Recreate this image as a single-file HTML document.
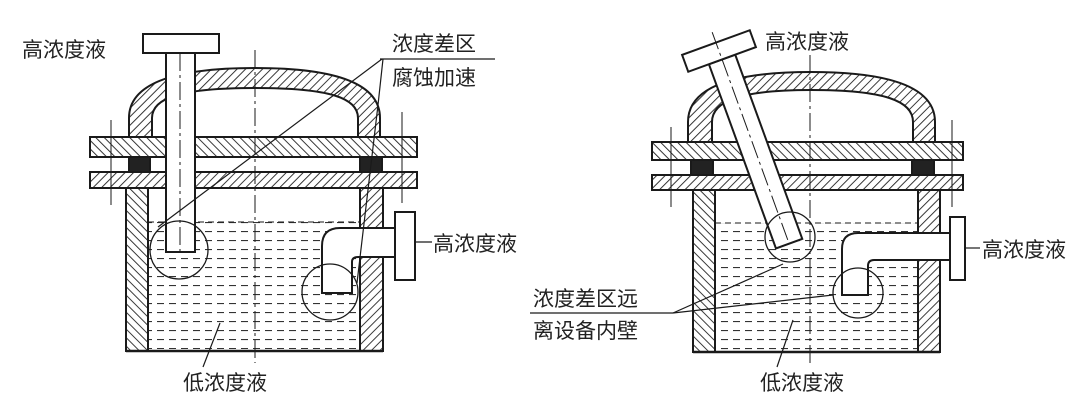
<!DOCTYPE html>
<html><head><meta charset="utf-8"><style>
html,body{margin:0;padding:0;background:#fff;}
svg{display:block;}
text{font-family:"Liberation Sans","Noto Sans CJK SC",sans-serif;font-size:21px;fill:#222;}
</style></head><body>
<svg width="1080" height="409" viewBox="0 0 1080 409" xmlns="http://www.w3.org/2000/svg">
<defs>
<pattern id="h1" width="6" height="6" patternUnits="userSpaceOnUse" patternTransform="rotate(45)">
<rect width="6" height="6" fill="#fff"/><line x1="0" y1="0" x2="0" y2="6" stroke="#222" stroke-width="1.8"/></pattern>
<pattern id="h2" width="6" height="6" patternUnits="userSpaceOnUse" patternTransform="rotate(-45)">
<rect width="6" height="6" fill="#fff"/><line x1="0" y1="0" x2="0" y2="6" stroke="#222" stroke-width="1.8"/></pattern>
<pattern id="liq" width="12" height="9" patternUnits="userSpaceOnUse" x="0" y="222">
<line x1="1" y1="0.5" x2="8" y2="0.5" stroke="#333" stroke-width="1.2"/></pattern>
</defs>
<g stroke="#1a1a1a" stroke-width="2" fill="none">
<!-- LEFT VESSEL -->
<rect x="148" y="222" width="212" height="127" fill="url(#liq)" stroke="none"/>
<line x1="148" y1="222" x2="360" y2="222" stroke-dasharray="6,4" stroke-width="1"/>
<rect x="126" y="188" width="22" height="163" fill="url(#h2)"/>
<rect x="360" y="188" width="23" height="163" fill="url(#h1)"/>
<line x1="126" y1="351" x2="383" y2="351" stroke-width="2.5"/>
<rect x="90" y="172" width="327" height="16" fill="url(#h1)"/>
<rect x="90" y="137" width="327" height="20" fill="url(#h2)"/>
<rect x="129" y="157" width="21" height="15" fill="#222"/>
<rect x="360" y="157" width="22" height="15" fill="#222"/>
<line x1="150" y1="157" x2="360" y2="157"/><line x1="150" y1="172" x2="360" y2="172"/>
<path fill="url(#h1)" fill-rule="evenodd" d="M129,137 L129,118 C129,85 170,68 255,68 C340,68 380,85 380,118 L380,137 L358,137 L358,118 C358,98 330,88 255,88 C180,88 152,98 152,118 L152,137 Z"/>
<line x1="255" y1="50" x2="255" y2="363" stroke-width="1" stroke-dasharray="18,4,3,4"/>
<line x1="111" y1="120" x2="111" y2="205" stroke-width="1"/>
<line x1="402" y1="112" x2="402" y2="203" stroke-width="1"/>
<rect x="166" y="53" width="29" height="199" fill="#fff"/>
<rect x="143" y="34" width="76" height="19" fill="#fff"/>
<line x1="180" y1="53" x2="180" y2="252" stroke-width="1" stroke-dasharray="18,4,3,4"/>
<path fill="#fff" d="M395,228 L340,228 Q322,228 322,246 L322,293 L352,293 L352,262 Q352,257 358,257 L395,257 Z"/>
<rect x="395" y="212" width="20" height="68" fill="#fff"/>
<circle cx="179" cy="250" r="29" stroke-width="1.3"/>
<circle cx="330" cy="292" r="28" stroke-width="1.3"/>
<g stroke-width="1.2">
<line x1="380" y1="59" x2="495" y2="59"/>
<line x1="382" y1="59" x2="158" y2="227"/>
<polyline points="383,59 378,105 357,283"/>
<line x1="415" y1="242" x2="432" y2="242"/>
<line x1="203" y1="367" x2="220" y2="323"/>
</g>
<!-- RIGHT VESSEL -->
<rect x="715" y="223" width="203" height="127" fill="url(#liq)" stroke="none"/>
<line x1="715" y1="223" x2="918" y2="223" stroke-dasharray="6,4" stroke-width="1"/>
<rect x="693" y="190" width="22" height="162" fill="url(#h2)"/>
<rect x="918" y="190" width="22" height="162" fill="url(#h1)"/>
<line x1="693" y1="352" x2="940" y2="352" stroke-width="2.5"/>
<rect x="652" y="175" width="311" height="15" fill="url(#h1)"/>
<rect x="652" y="142" width="311" height="18" fill="url(#h2)"/>
<rect x="691" y="160" width="22" height="15" fill="#222"/>
<rect x="912" y="160" width="22" height="15" fill="#222"/>
<line x1="713" y1="160" x2="912" y2="160"/><line x1="713" y1="175" x2="912" y2="175"/>
<path fill="url(#h1)" fill-rule="evenodd" d="M688,142 L688,122 C688,89 728,72 811,72 C895,72 935,89 935,122 L935,142 L913,142 L913,122 C913,101 885,90 811,90 C740,90 712,101 712,122 L712,142 Z"/>
<line x1="810" y1="55" x2="810" y2="363" stroke-width="1" stroke-dasharray="18,4,3,4"/>
<line x1="671" y1="127" x2="671" y2="207" stroke-width="1"/>
<line x1="952" y1="120" x2="952" y2="207" stroke-width="1"/>
<g transform="translate(719,51) rotate(-20)">
<rect x="-14" y="9" width="28" height="196" fill="#fff"/>
<rect x="-36" y="-9" width="72" height="18" fill="#fff"/>
<line x1="0" y1="-20" x2="0" y2="205" stroke-width="1" stroke-dasharray="18,4,3,4"/>
</g>
<path fill="#fff" d="M950,233 L858,233 Q842,233 842,249 L842,295 L868,295 L868,266 Q868,260 874,260 L950,260 Z"/>
<rect x="950" y="217" width="15" height="63" fill="#fff"/>
<circle cx="790" cy="237" r="25" stroke-width="1.3"/>
<circle cx="858" cy="293" r="25" stroke-width="1.3"/>
<g stroke-width="1.2">
<line x1="530" y1="313" x2="673" y2="313"/>
<line x1="673" y1="313" x2="783" y2="264"/>
<line x1="673" y1="313" x2="833" y2="295"/>
<line x1="965" y1="248" x2="980" y2="248"/>
<line x1="777" y1="367" x2="793" y2="320"/>
</g>
</g>
<text x="22" y="57">高浓度液</text>
<text x="392" y="51">浓度差区</text>
<text x="392" y="85">腐蚀加速</text>
<text x="433" y="251">高浓度液</text>
<text x="183" y="390">低浓度液</text>
<text x="765" y="49">高浓度液</text>
<text x="982" y="257">高浓度液</text>
<text x="533" y="306">浓度差区远</text>
<text x="533" y="338">离设备内壁</text>
<text x="760" y="390">低浓度液</text>
</svg>
</body></html>
